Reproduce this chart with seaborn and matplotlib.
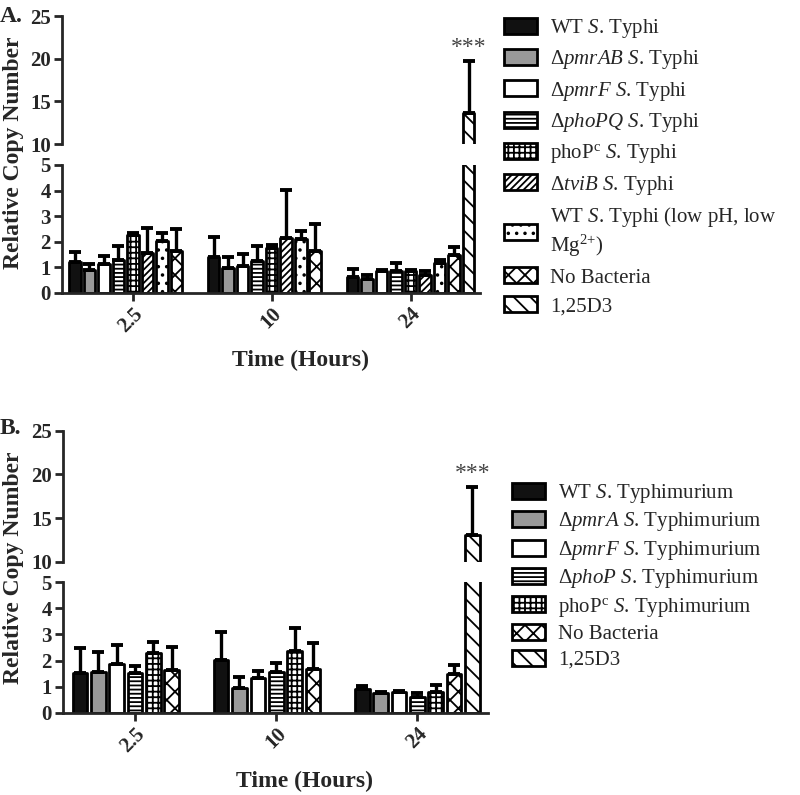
import numpy as np
import pandas as pd
import matplotlib
matplotlib.use("Agg")
import matplotlib.pyplot as plt
from matplotlib.patches import Patch
import seaborn as sns

times = ["2.5", "10", "24"]

# panel A: S. Typhi strains
strains_a = ["WT", "pmrAB", "pmrF", "phoPQ", "phoPc", "tviB", "WT lowpH", "No Bacteria", "1,25D3"]
labels_a = [r"WT $\mathit{S}$. Typhi",
            r"Δ$\mathit{pmrAB}$ $\mathit{S}$. Typhi",
            r"Δ$\mathit{pmrF}$ $\mathit{S}$. Typhi",
            r"Δ$\mathit{phoPQ}$ $\mathit{S}$. Typhi",
            r"phoP$^{\mathrm{c}}$ $\mathit{S}$. Typhi",
            r"Δ$\mathit{tviB}$ $\mathit{S}$. Typhi",
            "WT $\\mathit{S}$. Typhi (low pH, low\nMg$^{2{+}}$)",
            "No Bacteria",
            "1,25D3"]
means_a = [[1.23, 1.42, 0.63],
           [0.91, 0.98, 0.55],
           [1.12, 1.07, 0.85],
           [1.30, 1.26, 0.85],
           [2.27, 1.76, 0.84],
           [1.56, 2.15, 0.72],
           [2.03, 2.10, 1.18],
           [1.64, 1.65, 1.48],
           [np.nan, np.nan, 13.6]]
errs_a = [[0.37, 0.75, 0.31],
          [0.23, 0.44, 0.15],
          [0.31, 0.45, 0.05],
          [0.52, 0.56, 0.31],
          [0.08, 0.10, 0.06],
          [0.99, 1.88, 0.13],
          [0.31, 0.33, 0.12],
          [0.86, 1.04, 0.30],
          [np.nan, np.nan, 6.1]]

# panel B: S. Typhimurium strains
strains_b = ["WT", "pmrA", "pmrF", "phoP", "phoPc", "No Bacteria", "1,25D3"]
labels_b = [r"WT $\mathit{S}$. Typhimurium",
            r"Δ$\mathit{pmrA}$ $\mathit{S}$. Typhimurium",
            r"Δ$\mathit{pmrF}$ $\mathit{S}$. Typhimurium",
            r"Δ$\mathit{phoP}$ $\mathit{S}$. Typhimurium",
            r"phoP$^{\mathrm{c}}$ $\mathit{S}$. Typhimurium",
            "No Bacteria",
            "1,25D3"]
means_b = [[1.51, 2.02, 0.92],
           [1.56, 0.95, 0.75],
           [1.87, 1.32, 0.78],
           [1.51, 1.57, 0.62],
           [2.28, 2.37, 0.80],
           [1.64, 1.66, 1.50],
           [np.nan, np.nan, 13.06]]
errs_b = [[0.96, 1.08, 0.11],
          [0.78, 0.43, 0.05],
          [0.73, 0.28, 0.05],
          [0.28, 0.33, 0.14],
          [0.42, 0.89, 0.27],
          [0.89, 1.00, 0.32],
          [np.nan, np.nan, 5.44]]

# fill colour and hatch for each strain
style = {"WT": ("#111111", ""), "pmrAB": ("#999999", ""), "pmrA": ("#999999", ""),
         "pmrF": ("white", ""), "phoPQ": ("white", "----"), "phoP": ("white", "----"),
         "phoPc": ("white", "+++"), "tviB": ("white", "/////"), "WT lowpH": ("white", ".."),
         "No Bacteria": ("white", "xx"), "1,25D3": ("white", "\\\\")}

sns.set_theme(style="ticks")
plt.rcParams["font.family"] = ["Liberation Serif", "DejaVu Serif"]
plt.rcParams["mathtext.fontset"] = "custom"
plt.rcParams["mathtext.rm"] = "Liberation Serif"
plt.rcParams["mathtext.it"] = "Liberation Serif:italic"
plt.rcParams["hatch.linewidth"] = 1.3
plt.rcParams["axes.linewidth"] = 2

fig = plt.figure(figsize=(8, 7.95), dpi=100)
W, H = 800, 795


def draw_panel(box_bot, box_top, strains, labels, means, errs, width, legend_xy, spacing):
    rows = []
    for s, m_row in zip(strains, means):
        for t, m in zip(times, m_row):
            if not np.isnan(m):
                rows.append((t, s, m))
    df = pd.DataFrame(rows, columns=["time", "strain", "value"])
    pal = {s: style[s][0] for s in strains}

    ax_bot = fig.add_axes(box_bot)
    ax_top = fig.add_axes(box_top)
    d3_bar = None
    for ax in (ax_bot, ax_top):
        sns.barplot(data=df, x="time", y="value", hue="strain", order=times,
                    hue_order=strains, palette=pal, saturation=1, width=width,
                    gap=0.2, errorbar=None, edgecolor="black", linewidth=2,
                    legend=False, ax=ax)
        bar_sets = list(ax.containers)
        for s, cont, m_row, e_row in zip(strains, bar_sets, means, errs):
            present = [(m, e) for m, e in zip(m_row, e_row) if not np.isnan(m)]
            xs, ys, es = [], [], []
            for bar, (m, e) in zip(cont, present):
                bar.set_hatch(style[s][1])
                bar.set_joinstyle("round")
                xs.append(bar.get_x() + bar.get_width() / 2)
                ys.append(bar.get_height())
                es.append(e)
            ax.errorbar(xs, ys, yerr=[np.zeros(len(es)), es], fmt="none",
                        ecolor="black", elinewidth=2.4, capsize=4, capthick=2.8)
        d3_bar = bar_sets[-1][0]
        ax.set_xlim(-0.51, 2.5)
        ax.set_xlabel("")
        ax.set_ylabel("")
        ax.tick_params(width=2, length=6, labelsize=15, pad=2)
        sns.despine(ax=ax)

    ax_bot.set_ylim(0, 5)
    ax_bot.set_yticks([0, 1, 2, 3, 4, 5])
    ax_bot.set_xticks(range(len(times)))
    ax_bot.set_xticklabels(times, rotation=45, ha="right", rotation_mode="anchor")

    ax_top.set_ylim(10, 25)
    ax_top.set_yticks([10, 15, 20, 25])
    ax_top.spines["bottom"].set_visible(False)
    ax_top.set_xticks([])

    for ax in (ax_bot, ax_top):
        for lab in ax.get_xticklabels() + ax.get_yticklabels():
            lab.set_fontweight("bold")

    # significance stars above the 1,25D3 bar
    top = means[-1][2] + errs[-1][2]
    ax_top.text(d3_bar.get_x() + d3_bar.get_width() / 2, top + 1.6, "***", ha="center",
                va="center", fontsize=17, color="#444444")

    handles = [Patch(facecolor=style[s][0], edgecolor="black", hatch=style[s][1],
                     linewidth=2) for s in strains]
    fig.legend(handles, labels, loc="upper left", bbox_to_anchor=legend_xy,
               frameon=False, prop={"size": 15},
               handlelength=1.6, handleheight=0.8, handletextpad=0.6,
               labelspacing=spacing, borderaxespad=0, borderpad=0)
    return ax_bot, ax_top


draw_panel([62 / W, 1 - 293 / H, 418 / W, 128 / H], [62 / W, 1 - 144 / H, 418 / W, 128 / H],
           strains_a, labels_a, means_a, errs_a, 0.94, (504 / W, 1 - 17 / H), 0.4)
draw_panel([63 / W, 1 - 712.7 / H, 425 / W, 130.4 / H], [63 / W, 1 - 561.7 / H, 425 / W, 131 / H],
           strains_b, labels_b, means_b, errs_b, 0.91, (512 / W, 1 - 482 / H), 0.26)

fig.text(0.0, 1 - 16 / H, "A.", fontsize=17, fontweight="bold", va="center")
fig.text(0.0, 1 - 428 / H, "B.", fontsize=17, fontweight="bold", va="center")
fig.text(14 / W, 1 - 153 / H, "Relative Copy Number", rotation=90, fontsize=17,
         fontweight="bold", ha="center", va="center")
fig.text(14 / W, 1 - 568 / H, "Relative Copy Number", rotation=90, fontsize=17,
         fontweight="bold", ha="center", va="center")
fig.text(300 / W, 1 - 360 / H, "Time (Hours)", fontsize=17, fontweight="bold",
         ha="center", va="center")
fig.text(305 / W, 1 - 781 / H, "Time (Hours)", fontsize=17, fontweight="bold",
         ha="center", va="center")

fig.savefig("out.png", dpi=100)
